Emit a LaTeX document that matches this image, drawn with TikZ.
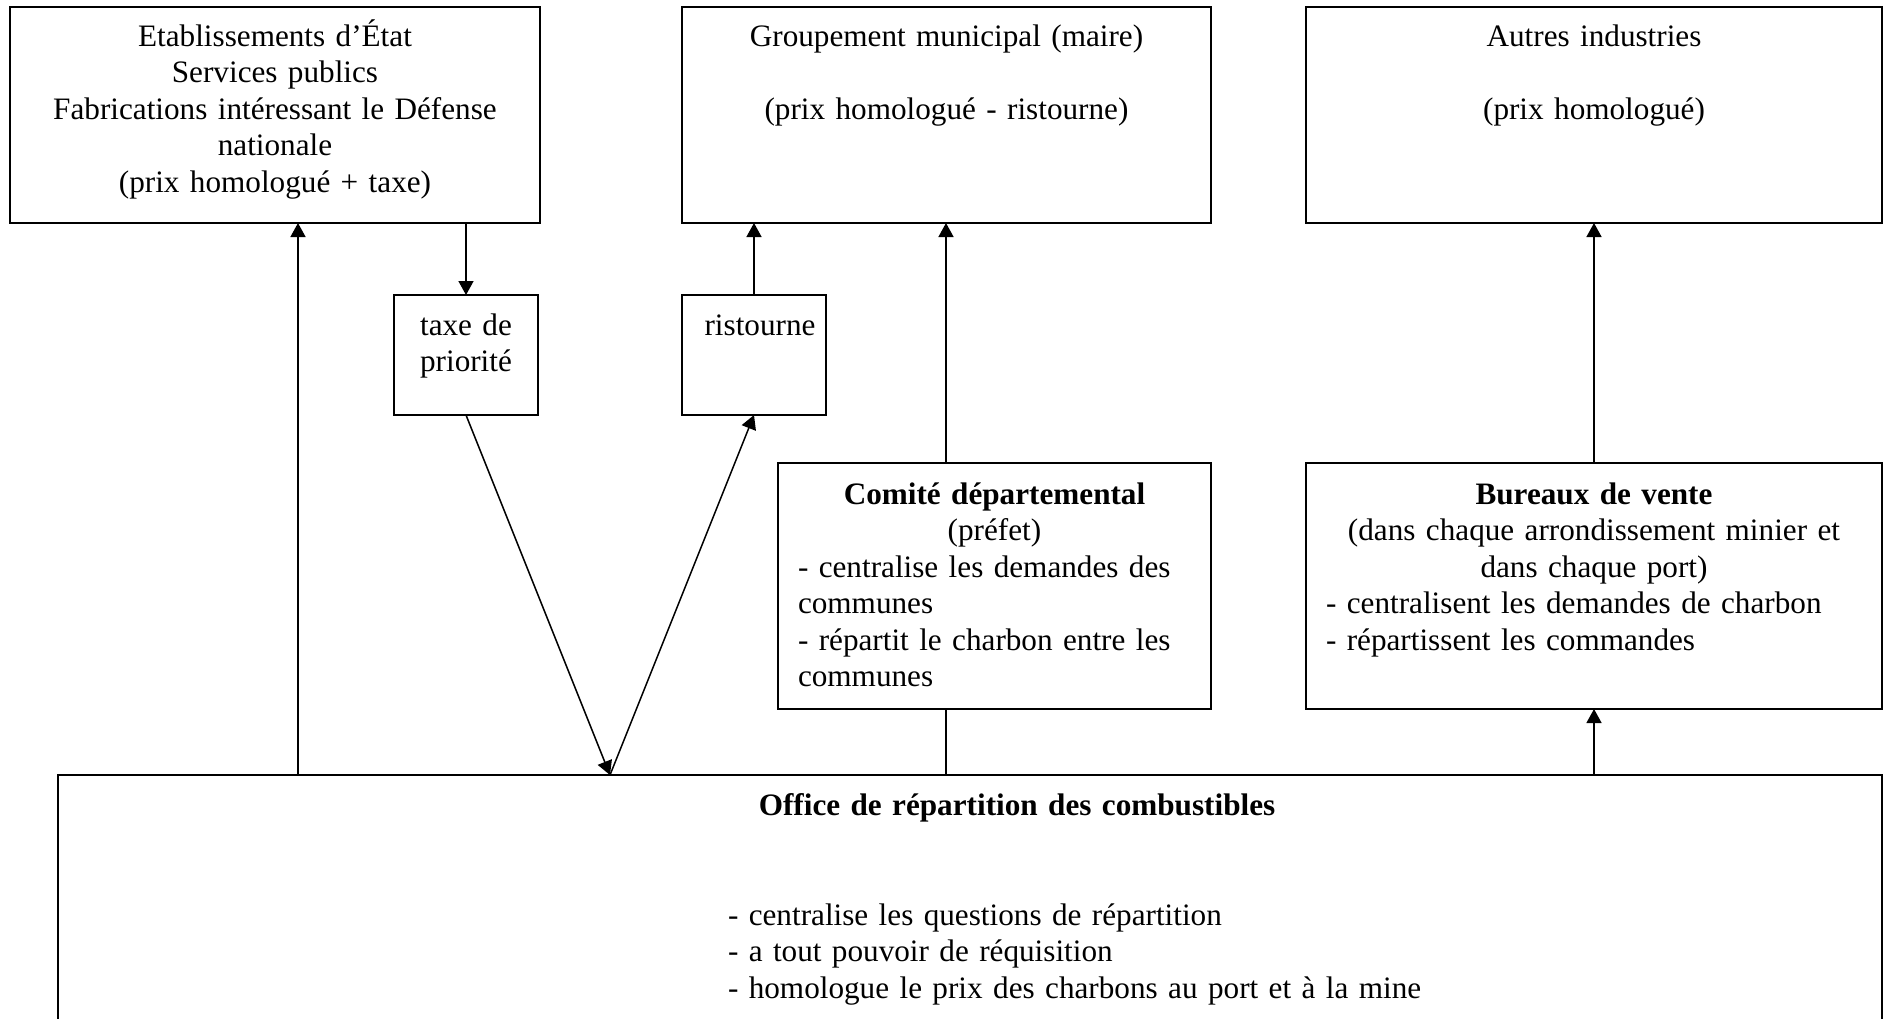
\documentclass[tikz,border=0pt]{standalone}
\usepackage{fontspec}
\setmainfont{Liberation Serif}
\usetikzlibrary{arrows.meta}
\newcommand\myleft[1]{\makebox[\linewidth][l]{#1}}
\begin{document}
\begin{tikzpicture}[x=0.5pt,y=-0.5pt,
  box/.style={draw, line width=1pt, inner sep=0pt, outer sep=0pt, rectangle},
  txt/.style={inner sep=0pt, outer sep=0pt, font=\fontsize{15.6pt}{18.25pt}\selectfont},
  arr/.style={line width=0.75pt, -{Triangle[length=7pt,width=7.5pt]}},
  ln/.style={line width=0.75pt}]
\useasboundingbox (0,0) rectangle (1883,1018);
\begin{scope}
\clip (0,0) rectangle (1883,1018);
% boxes
\node[box, minimum width=265pt, minimum height=108pt] (A) at (275,115) {};
\node[box, minimum width=264.5pt, minimum height=108pt] (B) at (946.5,115) {};
\node[box, minimum width=288pt, minimum height=108pt] (C) at (1594,115) {};
\node[box, minimum width=72pt, minimum height=60pt] (T) at (466,355) {};
\node[box, minimum width=72pt, minimum height=60pt] (R) at (754,355) {};
\node[box, minimum width=216.5pt, minimum height=123pt] (D) at (994.5,586) {};
\node[box, minimum width=288pt, minimum height=123pt] (E) at (1594,586) {};
\node[box, minimum width=912.2pt, minimum height=162.5pt] (O) at (969.8,937.5) {};
% texts
\node[txt, text width=250pt, align=center, anchor=base] (At) at (275,46)
  {Etablissements d’État\\Services publics\\Fabrications intéressant le Défense\\nationale\\(prix homologué + taxe)};
\node[txt, text width=250pt, align=center, anchor=base] (Bt) at (946.5,46)
  {Groupement municipal (maire)\\[18.25pt](prix homologué - ristourne)};
\node[txt, text width=250pt, align=center, anchor=base] (Ct) at (1594,46)
  {Autres industries\\[18.25pt](prix homologué)};
\node[txt, text width=66pt, align=center, anchor=base] (Tt) at (466,335)
  {taxe de\\priorité};
\node[txt, text width=66pt, align=center, anchor=base] (Rt) at (760,335)
  {ristourne};
\node[txt, text width=196.5pt, align=center, anchor=base] (Dt) at (994.5,504)
  {\textbf{Comité départemental}\\(préfet)\\\myleft{- centralise les demandes des}\\\myleft{communes}\\\myleft{- répartit le charbon entre les}\\\myleft{communes}};
\node[txt, text width=268pt, align=center, anchor=base] (Et) at (1594,504)
  {\textbf{Bureaux de vente}\\(dans chaque arrondissement minier et\\dans chaque port)\\\myleft{- centralisent les demandes de charbon}\\\myleft{- répartissent les commandes}};
\node[txt, text width=500pt, align=center, anchor=base] (Ot) at (1017,815)
  {\textbf{Office de répartition des combustibles}};
\node[txt, text width=400pt, align=left, anchor=base west] (Ol) at (728,925)
  {- centralise les questions de répartition\\- a tout pouvoir de réquisition\\- homologue le prix des charbons au port et à la mine};
% connector x positions
\coordinate (xa) at (298,0);
\coordinate (xv) at (610,0);
\coordinate (xd) at (946,0);
\coordinate (apex) at (O.north -| xv);
% connectors
\draw[arr] (O.north -| xa) -- (A.south -| xa);
\draw[arr] (A.south -| T.north) -- (T.north);
\draw[arr] (T.south) -- (apex);
\draw[arr] (apex) -- (R.south);
\draw[arr] (R.north) -- (R.north |- B.south);
\draw[arr] (D.north -| xd) -- (B.south -| xd);
\draw[ln] (O.north -| xd) -- (D.south -| xd);
\draw[arr] (E.north) -- (C.south);
\draw[arr] (O.north -| E.south) -- (E.south);
\end{scope}
\end{tikzpicture}
\end{document}
